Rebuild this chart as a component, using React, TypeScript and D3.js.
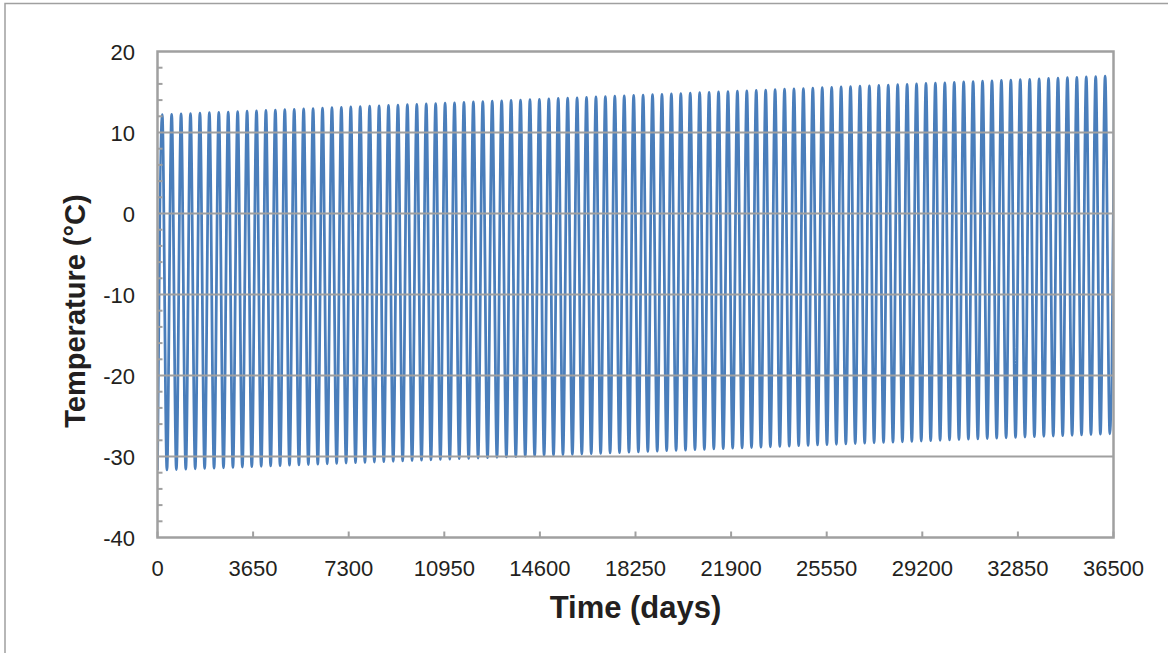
import { useEffect, useRef } from "react";
import * as d3 from "d3";

// daily temperature, one cycle per 360 days; troughs at day 360k, peaks at 180 + 360k
const CYCLE_DAYS = 360;

const troughs = [
  -31.7, -31.66, -31.61, -31.57, -31.52, -31.48, -31.43, -31.39, -31.34, -31.3,
  -31.25, -31.21, -31.17, -31.12, -31.08, -31.03, -30.99, -30.94, -30.9, -30.85,
  -30.81, -30.76, -30.72, -30.68, -30.63, -30.59, -30.54, -30.5, -30.45, -30.41,
  -30.36, -30.32, -30.27, -30.23, -30.19, -30.14, -30.1, -30.05, -30.01, -29.96,
  -29.92, -29.87, -29.83, -29.78, -29.74, -29.7, -29.65, -29.61, -29.56, -29.52,
  -29.47, -29.43, -29.38, -29.34, -29.29, -29.25, -29.21, -29.16, -29.12, -29.07,
  -29.03, -28.98, -28.94, -28.89, -28.85, -28.8, -28.76, -28.72, -28.67, -28.63,
  -28.58, -28.54, -28.49, -28.45, -28.4, -28.36, -28.31, -28.27, -28.23, -28.18,
  -28.14, -28.09, -28.05, -28.0, -27.96, -27.91, -27.87, -27.82, -27.78, -27.74,
  -27.69, -27.65, -27.6, -27.56, -27.51, -27.47, -27.42, -27.38, -27.33, -27.29,
  -27.24, -27.2,
];

const peaks = [
  12.2, 12.25, 12.3, 12.34, 12.39, 12.44, 12.49, 12.53, 12.58, 12.63,
  12.68, 12.72, 12.77, 12.82, 12.87, 12.91, 12.96, 13.01, 13.06, 13.1,
  13.15, 13.2, 13.25, 13.29, 13.34, 13.39, 13.44, 13.48, 13.53, 13.58,
  13.63, 13.67, 13.72, 13.77, 13.82, 13.86, 13.91, 13.96, 14.01, 14.05,
  14.1, 14.15, 14.2, 14.24, 14.29, 14.34, 14.39, 14.43, 14.48, 14.53,
  14.58, 14.62, 14.67, 14.72, 14.77, 14.81, 14.86, 14.91, 14.96, 15.0,
  15.05, 15.1, 15.15, 15.19, 15.24, 15.29, 15.34, 15.38, 15.43, 15.48,
  15.53, 15.57, 15.62, 15.67, 15.72, 15.76, 15.81, 15.86, 15.91, 15.95,
  16.0, 16.05, 16.1, 16.14, 16.19, 16.24, 16.29, 16.33, 16.38, 16.43,
  16.48, 16.52, 16.57, 16.62, 16.67, 16.71, 16.76, 16.81, 16.86, 16.9,
  16.95, 17.0,
];

const xTicks = [0, 3650, 7300, 10950, 14600, 18250, 21900, 25550, 29200, 32850, 36500];
const yTicks = [-40, -30, -20, -10, 0, 10, 20];

const App = () => {
  const ref = useRef<SVGSVGElement>(null);

  useEffect(() => {
    const width = 1168;
    const height = 653;
    const m = { left: 157.5, right: 1113.5, top: 51.5, bottom: 537.5 };
    const grey = "#a0a0a0";
    const font = "'Liberation Sans', Arial, sans-serif";

    const points: [number, number][] = [];
    troughs.forEach((t, i) => {
      points.push([i * CYCLE_DAYS, t]);
      if (i < peaks.length) points.push([i * CYCLE_DAYS + CYCLE_DAYS / 2, peaks[i]]);
    });

    const x = d3.scaleLinear().domain([0, 36500]).range([m.left, m.right]);
    const y = d3.scaleLinear().domain([-40, 20]).range([m.bottom, m.top]);

    const svg = d3.select(ref.current);
    svg.selectAll("*").remove();
    svg.attr("width", width).attr("height", height);

    // chart area border
    svg.append("rect")
      .attr("x", 5).attr("y", 3.5)
      .attr("width", width + 20).attr("height", height + 20)
      .attr("fill", "white").attr("stroke", grey).attr("stroke-width", 1.5);

    svg.append("clipPath").attr("id", "plot-clip")
      .append("rect")
      .attr("x", m.left).attr("y", m.top)
      .attr("width", m.right - m.left).attr("height", m.bottom - m.top);

    const line = d3.line<[number, number]>()
      .x((d) => x(d[0]))
      .y((d) => y(d[1]))
      .curve(d3.curveMonotoneX);

    svg.append("path")
      .datum(points)
      .attr("clip-path", "url(#plot-clip)")
      .attr("fill", "none")
      .attr("stroke", "#4a7ebb")
      .attr("stroke-width", 2.75)
      .attr("d", line);

    // gridlines
    svg.append("g")
      .selectAll("line")
      .data(yTicks.filter((t) => t > -40 && t < 20))
      .join("line")
      .attr("x1", m.left).attr("x2", m.right)
      .attr("y1", (d) => y(d)).attr("y2", (d) => y(d))
      .attr("stroke", grey).attr("stroke-width", 2);

    // minor y ticks (inside)
    const minor = d3.range(-38, 20, 2).filter((v) => v % 10 !== 0);
    svg.append("g")
      .selectAll("line")
      .data(minor)
      .join("line")
      .attr("x1", m.left).attr("x2", m.left + 5)
      .attr("y1", (d) => y(d)).attr("y2", (d) => y(d))
      .attr("stroke", grey).attr("stroke-width", 2);

    // x ticks (inside)
    svg.append("g")
      .selectAll("line")
      .data(xTicks)
      .join("line")
      .attr("x1", (d) => x(d)).attr("x2", (d) => x(d))
      .attr("y1", m.bottom).attr("y2", m.bottom - 6)
      .attr("stroke", grey).attr("stroke-width", 2);

    // plot frame
    svg.append("rect")
      .attr("x", m.left).attr("y", m.top)
      .attr("width", m.right - m.left).attr("height", m.bottom - m.top)
      .attr("fill", "none").attr("stroke", grey).attr("stroke-width", 2.5);

    svg.append("g")
      .attr("font-family", font).attr("font-size", 22).attr("fill", "#231f20")
      .attr("text-anchor", "end")
      .selectAll("text")
      .data(yTicks)
      .join("text")
      .attr("x", 135).attr("y", (d) => y(d) + 8)
      .text((d) => d);

    svg.append("g")
      .attr("font-family", font).attr("font-size", 22).attr("fill", "#231f20")
      .attr("text-anchor", "middle")
      .selectAll("text")
      .data(xTicks)
      .join("text")
      .attr("x", (d) => x(d)).attr("y", 576)
      .text((d) => d);

    svg.append("text")
      .attr("font-family", font).attr("font-size", 31).attr("font-weight", "bold")
      .attr("fill", "#231f20").attr("text-anchor", "middle")
      .attr("x", (m.left + m.right) / 2).attr("y", 618)
      .text("Time (days)");

    svg.append("text")
      .attr("font-family", font).attr("font-size", 29).attr("font-weight", "bold")
      .attr("fill", "#231f20").attr("text-anchor", "middle")
      .attr("transform", "translate(85,311) rotate(-90)")
      .text("Temperature (°C)");
  }, []);

  return (
    <svg ref={ref} style={{ position: "absolute", left: 0, top: 0 }}></svg>
  );
};

export default App;
